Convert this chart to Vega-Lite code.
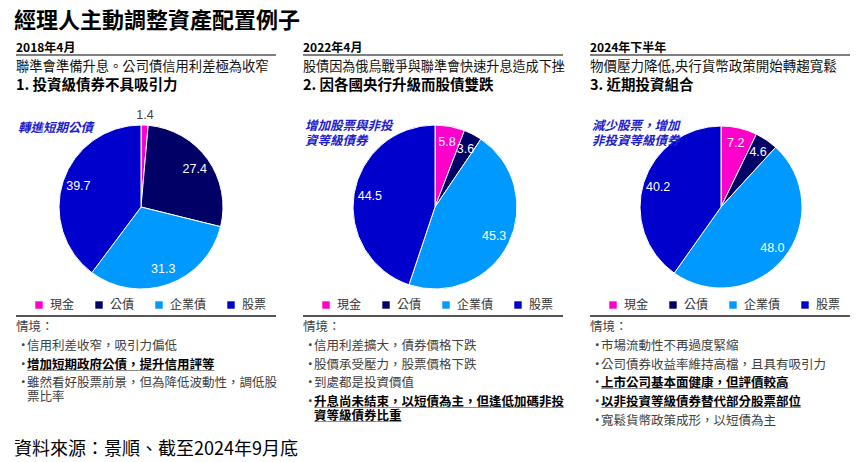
{
  "$schema": "https://vega.github.io/schema/vega-lite/v6.json",
  "background": "white",
  "padding": {"left": 14, "top": 10, "right": 0, "bottom": 0},
  "config": {"view": {"stroke": null}, "font": "Noto Sans CJK TC"},
  "title": {"text": "經理人主動調整資產配置例子", "anchor": "start", "fontSize": 22, "fontWeight": "bold", "color": "#000000", "font": "Noto Sans CJK TC", "offset": 7},
  "datasets": {
    "p2018": [
      {"asset": "現金", "value": 1.4, "order": 1},
      {"asset": "公債", "value": 27.4, "order": 2},
      {"asset": "企業債", "value": 31.3, "order": 3},
      {"asset": "股票", "value": 39.7, "order": 4}
    ],
    "p2022": [
      {"asset": "現金", "value": 5.8, "order": 1},
      {"asset": "公債", "value": 3.6, "order": 2},
      {"asset": "企業債", "value": 45.3, "order": 3},
      {"asset": "股票", "value": 44.5, "order": 4}
    ],
    "p2024": [
      {"asset": "現金", "value": 7.2, "order": 1},
      {"asset": "公債", "value": 4.6, "order": 2},
      {"asset": "企業債", "value": 48.0, "order": 3},
      {"asset": "股票", "value": 40.2, "order": 4}
    ]
  },
  "spacing": 0,
  "bounds": "full",
  "vconcat": [
    {
      "resolve": {"scale": {"color": "independent"}, "legend": {"color": "independent"}},
      "hconcat": [
        {
          "spacing": 0, "bounds": "flush",
          "resolve": {"scale": {"color": "independent"}, "legend": {"color": "independent"}},
          "vconcat": [
            {"width": 260, "height": 15, "data": {"values": [{"text": "2018年4月"}]},
             "mark": {"type": "text", "align": "left", "baseline": "middle", "fontSize": 12, "fontWeight": "bold", "color": "#000"},
             "encoding": {"x": {"value": 0}, "text": {"field": "text"}}},
            {"width": 260, "height": 43,
             "layer": [
               {"data": {"values": [{"k": 1}]}, "mark": {"type": "rule", "color": "#555", "strokeWidth": 1.5}, "encoding": {"y": {"value": 0}}},
               {"data": {"values": [{"line": 1, "text": "聯準會準備升息。公司債信用利差極為收窄"}]},
                "mark": {"type": "text", "align": "left", "baseline": "middle", "fontSize": 13.3, "color": "#111"},
                "encoding": {"x": {"value": 0}, "y": {"field": "line", "type": "ordinal", "scale": {"type": "point", "domain": [1, 2], "padding": 0.6}, "axis": null}, "text": {"field": "text"}}},
               {"data": {"values": [{"line": 2, "text": "1. 投資級債券不具吸引力"}]},
                "mark": {"type": "text", "align": "left", "baseline": "middle", "fontSize": 14.5, "fontWeight": "bold", "color": "#000"},
                "encoding": {"x": {"value": 0}, "y": {"field": "line", "type": "ordinal", "scale": {"type": "point", "domain": [1, 2], "padding": 0.6}, "axis": null}, "text": {"field": "text"}}}
             ]},
            {"width": 260, "height": 218,
             "layer": [
               {"data": {"name": "p2018"},
                "encoding": {"theta": {"field": "value", "type": "quantitative", "stack": true}, "order": {"field": "order", "type": "quantitative"}, "detail": {"field": "asset"}},
                "layer": [
                  {"mark": {"type": "arc", "outerRadius": 82, "stroke": "white", "strokeWidth": 1, "x": 125},
                   "encoding": {"color": {"field": "asset", "type": "nominal", "scale": {"domain": ["現金", "公債", "企業債", "股票"], "range": ["#ff00cc", "#000066", "#0099ff", "#0000cc"]},
                     "legend": {"orient": "none", "legendX": 17, "legendY": 201, "direction": "horizontal", "columns": 4, "gridAlign": "none", "title": null, "symbolType": "square", "symbolSize": 55, "symbolStrokeWidth": 0, "labelFontSize": 12, "labelColor": "#333", "labelFont": "Noto Sans CJK TC", "columnPadding": 18, "labelOffset": 5}}}},
                  {"mark": {"type": "text", "radius": 66, "fill": "white", "fontSize": 12.5, "font": "Liberation Sans", "x": 125},
                   "encoding": {"text": {"condition": {"test": "datum.value < 2", "value": ""}, "field": "value", "type": "quantitative", "format": ".1f"}}},
                  {"mark": {"type": "text", "radius": 92, "fill": "#404040", "fontSize": 12.5, "font": "Liberation Sans", "x": 125},
                   "encoding": {"text": {"condition": {"test": "datum.value >= 2", "value": ""}, "field": "value", "type": "quantitative", "format": ".1f"}}}
                ]},
               {"data": {"values": [{"text": "轉進短期公債"}]},
                "mark": {"type": "text", "align": "left", "baseline": "top", "fontSize": 12.5, "fontWeight": "bold", "fontStyle": "italic", "color": "#2020cc", "lineBreak": "\n", "lineHeight": 15},
                "encoding": {"x": {"value": 2}, "y": {"value": 24}, "text": {"field": "text"}}}
             ]},
            {"width": 260, "height": 104,
             "data": {"values": [
               {"line": 0, "kind": "head", "emph": false, "text": "情境："},
               {"line": 1, "kind": "item", "emph": false, "text": "信用利差收窄，吸引力偏低"},
               {"line": 2, "kind": "item", "emph": true, "text": "增加短期政府公債，提升信用評等"},
               {"line": 3, "kind": "item", "emph": false, "text": "雖然看好股票前景，但為降低波動性，調低股\n票比率"}
             ]},
             "layer": [
               {"mark": {"type": "rule", "color": "#555", "strokeWidth": 1.5}, "encoding": {"y": {"value": 0}}},
               {"transform": [{"filter": "datum.kind == 'head'"}],
                "mark": {"type": "text", "align": "left", "baseline": "top", "fontSize": 12.5, "color": "#404040"},
                "encoding": {"x": {"value": 0}, "y": {"field": "line", "type": "ordinal", "scale": {"type": "point", "domain": [0, 1, 2, 3, 4, 5], "padding": 0.29}, "axis": null}, "text": {"field": "text"}}},
               {"transform": [{"filter": "datum.kind == 'item'"}],
                "mark": {"type": "text", "align": "left", "baseline": "top", "fontSize": 12.5, "color": "#404040", "text": "•"},
                "encoding": {"x": {"value": 1}, "y": {"field": "line", "type": "ordinal", "scale": {"type": "point", "domain": [0, 1, 2, 3, 4, 5], "padding": 0.29}, "axis": null}}},
               {"transform": [{"filter": "datum.kind == 'item' && !datum.emph"}],
                "mark": {"type": "text", "align": "left", "baseline": "top", "fontSize": 12.5, "color": "#404040", "lineBreak": "\n", "lineHeight": 14},
                "encoding": {"x": {"value": 11}, "y": {"field": "line", "type": "ordinal", "scale": {"type": "point", "domain": [0, 1, 2, 3, 4, 5], "padding": 0.29}, "axis": null}, "text": {"field": "text"}}},
               {"transform": [{"filter": "datum.emph"}],
                "mark": {"type": "text", "align": "left", "baseline": "top", "fontSize": 12.5, "fontWeight": "bold", "color": "#000", "lineBreak": "\n", "lineHeight": 14},
                "encoding": {"x": {"value": 11}, "y": {"field": "line", "type": "ordinal", "scale": {"type": "point", "domain": [0, 1, 2, 3, 4, 5], "padding": 0.29}, "axis": null}, "text": {"field": "text"}}},
               {"transform": [{"filter": "datum.emph"}, {"calculate": "replace(datum.text, regexp('[^\\n]', 'g'), '＿')", "as": "ul"}],
                "mark": {"type": "text", "align": "left", "baseline": "top", "fontSize": 12.5, "fontWeight": "bold", "color": "#333", "lineBreak": "\n", "lineHeight": 14, "dy": 1},
                "encoding": {"x": {"value": 11}, "y": {"field": "line", "type": "ordinal", "scale": {"type": "point", "domain": [0, 1, 2, 3, 4, 5], "padding": 0.29}, "axis": null}, "text": {"field": "ul"}}}
             ]}
          ]
        },
        {
          "spacing": 0, "bounds": "flush",
          "resolve": {"scale": {"color": "independent"}, "legend": {"color": "independent"}},
          "vconcat": [
            {"width": 260, "height": 15, "data": {"values": [{"text": "2022年4月"}]},
             "mark": {"type": "text", "align": "left", "baseline": "middle", "fontSize": 12, "fontWeight": "bold", "color": "#000"},
             "encoding": {"x": {"value": 0}, "text": {"field": "text"}}},
            {"width": 260, "height": 43,
             "layer": [
               {"data": {"values": [{"k": 1}]}, "mark": {"type": "rule", "color": "#555", "strokeWidth": 1.5}, "encoding": {"y": {"value": 0}}},
               {"data": {"values": [{"line": 1, "text": "股債因為俄烏戰爭與聯準會快速升息造成下挫"}]},
                "mark": {"type": "text", "align": "left", "baseline": "middle", "fontSize": 13.1, "color": "#111"},
                "encoding": {"x": {"value": 0}, "y": {"field": "line", "type": "ordinal", "scale": {"type": "point", "domain": [1, 2], "padding": 0.6}, "axis": null}, "text": {"field": "text"}}},
               {"data": {"values": [{"line": 2, "text": "2. 因各國央行升級而股債雙跌"}]},
                "mark": {"type": "text", "align": "left", "baseline": "middle", "fontSize": 14.5, "fontWeight": "bold", "color": "#000"},
                "encoding": {"x": {"value": 0}, "y": {"field": "line", "type": "ordinal", "scale": {"type": "point", "domain": [1, 2], "padding": 0.6}, "axis": null}, "text": {"field": "text"}}}
             ]},
            {"width": 260, "height": 218,
             "layer": [
               {"data": {"name": "p2022"},
                "encoding": {"theta": {"field": "value", "type": "quantitative", "stack": true}, "order": {"field": "order", "type": "quantitative"}, "detail": {"field": "asset"}},
                "layer": [
                  {"mark": {"type": "arc", "outerRadius": 82, "stroke": "white", "strokeWidth": 1, "x": 132},
                   "encoding": {"color": {"field": "asset", "type": "nominal", "scale": {"domain": ["現金", "公債", "企業債", "股票"], "range": ["#ff00cc", "#000066", "#0099ff", "#0000cc"]},
                     "legend": {"orient": "none", "legendX": 17, "legendY": 201, "direction": "horizontal", "columns": 4, "gridAlign": "none", "title": null, "symbolType": "square", "symbolSize": 55, "symbolStrokeWidth": 0, "labelFontSize": 12, "labelColor": "#333", "labelFont": "Noto Sans CJK TC", "columnPadding": 18, "labelOffset": 5}}}},
                  {"mark": {"type": "text", "radius": 66, "fill": "white", "fontSize": 12.5, "font": "Liberation Sans", "x": 132},
                   "encoding": {"text": {"condition": {"test": "datum.value < 2", "value": ""}, "field": "value", "type": "quantitative", "format": ".1f"}}},
                  {"mark": {"type": "text", "radius": 92, "fill": "#404040", "fontSize": 12.5, "font": "Liberation Sans", "x": 132},
                   "encoding": {"text": {"condition": {"test": "datum.value >= 2", "value": ""}, "field": "value", "type": "quantitative", "format": ".1f"}}}
                ]},
               {"data": {"values": [{"text": "增加股票與非投\n資等級債券"}]},
                "mark": {"type": "text", "align": "left", "baseline": "top", "fontSize": 12.5, "fontWeight": "bold", "fontStyle": "italic", "color": "#2020cc", "lineBreak": "\n", "lineHeight": 15},
                "encoding": {"x": {"value": 2}, "y": {"value": 22}, "text": {"field": "text"}}}
             ]},
            {"width": 260, "height": 104,
             "data": {"values": [
               {"line": 0, "kind": "head", "emph": false, "text": "情境："},
               {"line": 1, "kind": "item", "emph": false, "text": "信用利差擴大，債券價格下跌"},
               {"line": 2, "kind": "item", "emph": false, "text": "股價承受壓力，股票價格下跌"},
               {"line": 3, "kind": "item", "emph": false, "text": "到處都是投資價值"},
               {"line": 4, "kind": "item", "emph": true, "text": "升息尚未結束，以短債為主，但逢低加碼非投\n資等級債券比重"}
             ]},
             "layer": [
               {"mark": {"type": "rule", "color": "#555", "strokeWidth": 1.5}, "encoding": {"y": {"value": 0}}},
               {"transform": [{"filter": "datum.kind == 'head'"}],
                "mark": {"type": "text", "align": "left", "baseline": "top", "fontSize": 12.5, "color": "#404040"},
                "encoding": {"x": {"value": 0}, "y": {"field": "line", "type": "ordinal", "scale": {"type": "point", "domain": [0, 1, 2, 3, 4, 5], "padding": 0.29}, "axis": null}, "text": {"field": "text"}}},
               {"transform": [{"filter": "datum.kind == 'item'"}],
                "mark": {"type": "text", "align": "left", "baseline": "top", "fontSize": 12.5, "color": "#404040", "text": "•"},
                "encoding": {"x": {"value": 1}, "y": {"field": "line", "type": "ordinal", "scale": {"type": "point", "domain": [0, 1, 2, 3, 4, 5], "padding": 0.29}, "axis": null}}},
               {"transform": [{"filter": "datum.kind == 'item' && !datum.emph"}],
                "mark": {"type": "text", "align": "left", "baseline": "top", "fontSize": 12.5, "color": "#404040", "lineBreak": "\n", "lineHeight": 14},
                "encoding": {"x": {"value": 11}, "y": {"field": "line", "type": "ordinal", "scale": {"type": "point", "domain": [0, 1, 2, 3, 4, 5], "padding": 0.29}, "axis": null}, "text": {"field": "text"}}},
               {"transform": [{"filter": "datum.emph"}],
                "mark": {"type": "text", "align": "left", "baseline": "top", "fontSize": 12.5, "fontWeight": "bold", "color": "#000", "lineBreak": "\n", "lineHeight": 14},
                "encoding": {"x": {"value": 11}, "y": {"field": "line", "type": "ordinal", "scale": {"type": "point", "domain": [0, 1, 2, 3, 4, 5], "padding": 0.29}, "axis": null}, "text": {"field": "text"}}},
               {"transform": [{"filter": "datum.emph"}, {"calculate": "replace(datum.text, regexp('[^\\n]', 'g'), '＿')", "as": "ul"}],
                "mark": {"type": "text", "align": "left", "baseline": "top", "fontSize": 12.5, "fontWeight": "bold", "color": "#333", "lineBreak": "\n", "lineHeight": 14, "dy": 1},
                "encoding": {"x": {"value": 11}, "y": {"field": "line", "type": "ordinal", "scale": {"type": "point", "domain": [0, 1, 2, 3, 4, 5], "padding": 0.29}, "axis": null}, "text": {"field": "ul"}}}
             ]}
          ]
        },
        {
          "spacing": 0, "bounds": "flush",
          "resolve": {"scale": {"color": "independent"}, "legend": {"color": "independent"}},
          "vconcat": [
            {"width": 260, "height": 15, "data": {"values": [{"text": "2024年下半年"}]},
             "mark": {"type": "text", "align": "left", "baseline": "middle", "fontSize": 12, "fontWeight": "bold", "color": "#000"},
             "encoding": {"x": {"value": 0}, "text": {"field": "text"}}},
            {"width": 260, "height": 43,
             "layer": [
               {"data": {"values": [{"k": 1}]}, "mark": {"type": "rule", "color": "#555", "strokeWidth": 1.5}, "encoding": {"y": {"value": 0}}},
               {"data": {"values": [{"line": 1, "text": "物價壓力降低,央行貨幣政策開始轉趨寬鬆"}]},
                "mark": {"type": "text", "align": "left", "baseline": "middle", "fontSize": 13.5, "color": "#111"},
                "encoding": {"x": {"value": 0}, "y": {"field": "line", "type": "ordinal", "scale": {"type": "point", "domain": [1, 2], "padding": 0.6}, "axis": null}, "text": {"field": "text"}}},
               {"data": {"values": [{"line": 2, "text": "3. 近期投資組合"}]},
                "mark": {"type": "text", "align": "left", "baseline": "middle", "fontSize": 14.5, "fontWeight": "bold", "color": "#000"},
                "encoding": {"x": {"value": 0}, "y": {"field": "line", "type": "ordinal", "scale": {"type": "point", "domain": [1, 2], "padding": 0.6}, "axis": null}, "text": {"field": "text"}}}
             ]},
            {"width": 260, "height": 218,
             "layer": [
               {"data": {"name": "p2024"},
                "encoding": {"theta": {"field": "value", "type": "quantitative", "stack": true}, "order": {"field": "order", "type": "quantitative"}, "detail": {"field": "asset"}},
                "layer": [
                  {"mark": {"type": "arc", "outerRadius": 81, "stroke": "white", "strokeWidth": 1, "x": 131},
                   "encoding": {"color": {"field": "asset", "type": "nominal", "scale": {"domain": ["現金", "公債", "企業債", "股票"], "range": ["#ff00cc", "#000066", "#0099ff", "#0000cc"]},
                     "legend": {"orient": "none", "legendX": 17, "legendY": 201, "direction": "horizontal", "columns": 4, "gridAlign": "none", "title": null, "symbolType": "square", "symbolSize": 55, "symbolStrokeWidth": 0, "labelFontSize": 12, "labelColor": "#333", "labelFont": "Noto Sans CJK TC", "columnPadding": 18, "labelOffset": 5}}}},
                  {"mark": {"type": "text", "radius": 66, "fill": "white", "fontSize": 12.5, "font": "Liberation Sans", "x": 131},
                   "encoding": {"text": {"condition": {"test": "datum.value < 2", "value": ""}, "field": "value", "type": "quantitative", "format": ".1f"}}},
                  {"mark": {"type": "text", "radius": 92, "fill": "#404040", "fontSize": 12.5, "font": "Liberation Sans", "x": 131},
                   "encoding": {"text": {"condition": {"test": "datum.value >= 2", "value": ""}, "field": "value", "type": "quantitative", "format": ".1f"}}}
                ]},
               {"data": {"values": [{"text": "減少股票，增加\n非投資等級債券"}]},
                "mark": {"type": "text", "align": "left", "baseline": "top", "fontSize": 12.5, "fontWeight": "bold", "fontStyle": "italic", "color": "#2020cc", "lineBreak": "\n", "lineHeight": 15},
                "encoding": {"x": {"value": 2}, "y": {"value": 22}, "text": {"field": "text"}}}
             ]},
            {"width": 260, "height": 104,
             "data": {"values": [
               {"line": 0, "kind": "head", "emph": false, "text": "情境："},
               {"line": 1, "kind": "item", "emph": false, "text": "市場流動性不再過度緊縮"},
               {"line": 2, "kind": "item", "emph": false, "text": "公司債券收益率維持高檔，且具有吸引力"},
               {"line": 3, "kind": "item", "emph": true, "text": "上市公司基本面健康，但評價較高"},
               {"line": 4, "kind": "item", "emph": true, "text": "以非投資等級債券替代部分股票部位"},
               {"line": 5, "kind": "item", "emph": false, "text": "寬鬆貨幣政策成形，以短債為主"}
             ]},
             "layer": [
               {"mark": {"type": "rule", "color": "#555", "strokeWidth": 1.5}, "encoding": {"y": {"value": 0}}},
               {"transform": [{"filter": "datum.kind == 'head'"}],
                "mark": {"type": "text", "align": "left", "baseline": "top", "fontSize": 12.5, "color": "#404040"},
                "encoding": {"x": {"value": 0}, "y": {"field": "line", "type": "ordinal", "scale": {"type": "point", "domain": [0, 1, 2, 3, 4, 5], "padding": 0.29}, "axis": null}, "text": {"field": "text"}}},
               {"transform": [{"filter": "datum.kind == 'item'"}],
                "mark": {"type": "text", "align": "left", "baseline": "top", "fontSize": 12.5, "color": "#404040", "text": "•"},
                "encoding": {"x": {"value": 1}, "y": {"field": "line", "type": "ordinal", "scale": {"type": "point", "domain": [0, 1, 2, 3, 4, 5], "padding": 0.29}, "axis": null}}},
               {"transform": [{"filter": "datum.kind == 'item' && !datum.emph"}],
                "mark": {"type": "text", "align": "left", "baseline": "top", "fontSize": 12.5, "color": "#404040", "lineBreak": "\n", "lineHeight": 14},
                "encoding": {"x": {"value": 11}, "y": {"field": "line", "type": "ordinal", "scale": {"type": "point", "domain": [0, 1, 2, 3, 4, 5], "padding": 0.29}, "axis": null}, "text": {"field": "text"}}},
               {"transform": [{"filter": "datum.emph"}],
                "mark": {"type": "text", "align": "left", "baseline": "top", "fontSize": 12.5, "fontWeight": "bold", "color": "#000", "lineBreak": "\n", "lineHeight": 14},
                "encoding": {"x": {"value": 11}, "y": {"field": "line", "type": "ordinal", "scale": {"type": "point", "domain": [0, 1, 2, 3, 4, 5], "padding": 0.29}, "axis": null}, "text": {"field": "text"}}},
               {"transform": [{"filter": "datum.emph"}, {"calculate": "replace(datum.text, regexp('[^\\n]', 'g'), '＿')", "as": "ul"}],
                "mark": {"type": "text", "align": "left", "baseline": "top", "fontSize": 12.5, "fontWeight": "bold", "color": "#333", "lineBreak": "\n", "lineHeight": 14, "dy": 1},
                "encoding": {"x": {"value": 11}, "y": {"field": "line", "type": "ordinal", "scale": {"type": "point", "domain": [0, 1, 2, 3, 4, 5], "padding": 0.29}, "axis": null}, "text": {"field": "ul"}}}
             ]}
          ]
        }
      ],
      "spacing": 24,
      "bounds": "full"
    },
    {"width": 842, "height": 36, "data": {"values": [{"text": "資料來源：景順、截至2024年9月底"}]},
     "mark": {"type": "text", "align": "left", "baseline": "middle", "fontSize": 18, "color": "#000", "dy": 4},
     "encoding": {"x": {"value": -2}, "text": {"field": "text"}}}
  ]
}
